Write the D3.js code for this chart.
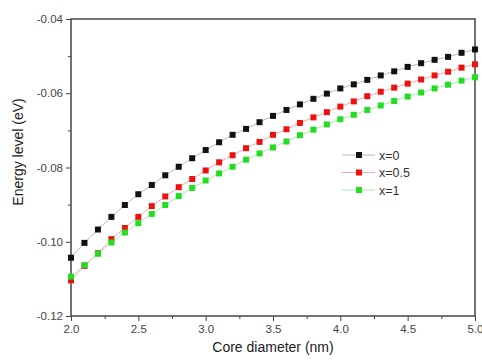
<!DOCTYPE html>
<html>
<head>
<meta charset="utf-8">
<script src="https://cdn.jsdelivr.net/npm/d3@7"></script>
<style>
  body { margin: 0; background: #fff; }
  text { font-family: "Liberation Sans", Arial, sans-serif; }
</style>
</head>
<body>
<div id="vis"></div>
<script>
// core diameter (nm)
const diameters = d3.range(31).map(i => +(2.0 + i * 0.1).toFixed(1));

// energy levels (eV)
const energyX0 = [-0.1043, -0.1003, -0.0967, -0.0933, -0.0901, -0.0872, -0.0847, -0.0821, -0.0798, -0.0775,
  -0.0753, -0.0732, -0.0712, -0.0696, -0.0678, -0.0661, -0.0645, -0.0630, -0.0615, -0.0601,
  -0.0587, -0.0576, -0.0564, -0.0552, -0.0541, -0.0529, -0.0519, -0.0510, -0.0502, -0.0491, -0.0482];
const energyX05 = [-0.1104, -0.1065, -0.1031, -0.0993, -0.0963, -0.0933, -0.0904, -0.0878, -0.0853, -0.0831,
  -0.0808, -0.0786, -0.0767, -0.0748, -0.0731, -0.0712, -0.0697, -0.0680, -0.0665, -0.0651,
  -0.0636, -0.0622, -0.0608, -0.0596, -0.0585, -0.0574, -0.0563, -0.0552, -0.0542, -0.0531, -0.0522];
const energyX1 = [-0.1094, -0.1063, -0.1032, -0.1002, -0.0975, -0.0950, -0.0925, -0.0901, -0.0877, -0.0855,
  -0.0835, -0.0816, -0.0798, -0.0779, -0.0762, -0.0746, -0.0730, -0.0713, -0.0698, -0.0684,
  -0.0670, -0.0658, -0.0645, -0.0633, -0.0621, -0.0609, -0.0598, -0.0587, -0.0577, -0.0566, -0.0557];

const seriesNames = ['x=0', 'x=0.5', 'x=1'];
const xTicks = [2.0, 2.5, 3.0, 3.5, 4.0, 4.5, 5.0];
const yTicks = [-0.12, -0.10, -0.08, -0.06, -0.04];

const markerColors = ['#111111', '#ee1111', '#22dd22'];
const lineColors = ['#b8b8b8', '#f5a8a8', '#a8eca8'];

const width = 482, height = 360;
const margin = {left: 71, right: 7, top: 19, bottom: 44};

const svg = d3.select("#vis").append("svg")
  .attr("width", width)
  .attr("height", height);

const x = d3.scaleLinear().domain([2.0, 5.0]).range([margin.left, width - margin.right]);
const y = d3.scaleLinear().domain([-0.12, -0.04]).range([height - margin.bottom, margin.top]);

const axisColor = '#444';

// minor ticks
svg.append("g")
  .attr("transform", `translate(0,${y(-0.12)})`)
  .call(d3.axisBottom(x).tickValues([2.25, 2.75, 3.25, 3.75, 4.25, 4.75]).tickSize(3).tickFormat(""))
  .call(g => g.select(".domain").remove())
  .call(g => g.selectAll("line").attr("stroke", axisColor));
svg.append("g")
  .attr("transform", `translate(${x(2.0)},0)`)
  .call(d3.axisLeft(y).tickValues([-0.11, -0.09, -0.07, -0.05]).tickSize(3).tickFormat(""))
  .call(g => g.select(".domain").remove())
  .call(g => g.selectAll("line").attr("stroke", axisColor));

// major axes
const xAxis = svg.append("g")
  .attr("transform", `translate(0,${y(-0.12)})`)
  .call(d3.axisBottom(x).tickValues(xTicks).tickSize(5).tickPadding(4).tickFormat(d => d.toFixed(1)));
const yAxis = svg.append("g")
  .attr("transform", `translate(${x(2.0)},0)`)
  .call(d3.axisLeft(y).tickValues(yTicks).tickSize(5).tickPadding(3).tickFormat(d => d.toFixed(2)));

[xAxis, yAxis].forEach(a => {
  a.select(".domain").remove();
  a.selectAll("line").attr("stroke", axisColor);
  a.selectAll("text").attr("fill", "#444").style("font-size", "11.5px");
});

// frame
svg.append("rect")
  .attr("x", x(2.0)).attr("y", y(-0.04))
  .attr("width", x(5.0) - x(2.0)).attr("height", y(-0.12) - y(-0.04))
  .attr("fill", "none").attr("stroke", axisColor).attr("stroke-width", 1.5);

// series
const allSeries = [energyX0, energyX05, energyX1];
const line = d3.line().x((d, i) => x(diameters[i])).y(d => y(d));

allSeries.forEach((vals, k) => {
  svg.append("path")
    .datum(vals)
    .attr("d", line)
    .attr("fill", "none")
    .attr("stroke", lineColors[k])
    .attr("stroke-width", 1);
});
allSeries.forEach((vals, k) => {
  svg.append("g").selectAll("rect")
    .data(vals)
    .join("rect")
      .attr("x", (d, i) => x(diameters[i]) - 3)
      .attr("y", d => y(d) - 3)
      .attr("width", 6)
      .attr("height", 6)
      .attr("fill", markerColors[k]);
});

// legend
const legend = svg.append("g");
seriesNames.forEach((name, k) => {
  const ly = 155 + k * 17.5;
  legend.append("line")
    .attr("x1", 342).attr("x2", 375).attr("y1", ly).attr("y2", ly)
    .attr("stroke", lineColors[k]).attr("stroke-width", 1);
  legend.append("rect")
    .attr("x", 356).attr("y", ly - 3).attr("width", 6).attr("height", 6)
    .attr("fill", markerColors[k]);
  legend.append("text")
    .attr("x", 379).attr("y", ly + 4.5)
    .attr("fill", "#333")
    .style("font-size", "12.5px")
    .text(name);
});

// axis titles
svg.append("text")
  .attr("x", (x(2.0) + x(5.0)) / 2)
  .attr("y", 352)
  .attr("text-anchor", "middle")
  .attr("fill", "#222")
  .style("font-size", "14px")
  .text("Core diameter (nm)");

svg.append("text")
  .attr("transform", "translate(23,152) rotate(-90)")
  .attr("text-anchor", "middle")
  .attr("fill", "#222")
  .style("font-size", "14px")
  .text("Energy level (eV)");
</script>
</body>
</html>
